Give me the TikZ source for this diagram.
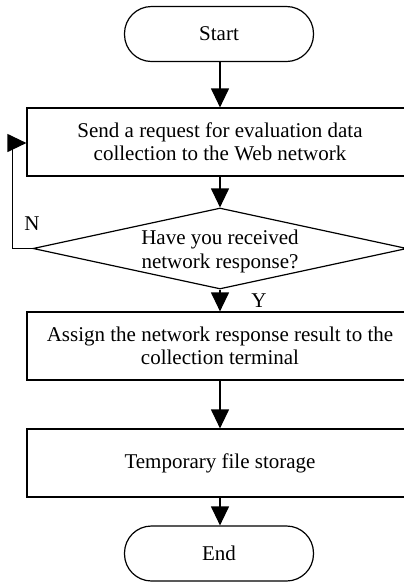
\documentclass[tikz,border=0pt]{standalone}
\usepackage{fontspec}
\setmainfont{Liberation Serif}
\usetikzlibrary{arrows.meta,shapes.geometric}
\begin{document}
\begin{tikzpicture}[x=1pt,y=-1pt,
  every node/.style={font=\fontsize{21}{23.5}\selectfont},
  term/.style={draw,line width=1.2pt,rounded corners=27pt,minimum width=189pt,minimum height=55pt,inner sep=0pt},
  procbox/.style={draw,line width=1.2pt,minimum width=386pt,minimum height=68pt,inner sep=0pt,align=center},
  decide/.style={draw,line width=1.2pt,diamond,minimum width=374pt,minimum height=81pt,inner sep=0pt,aspect=4.6},
  arr/.style={line width=1.2pt,-{Triangle[length=19pt,width=18pt]}}]
\useasboundingbox (0,0) rectangle (404,582);
\clip (0,0) rectangle (404,582);
% flowchart blocks
\node[term] (start) at (219,34) {Start};
\node[procbox] (send) at (220,142) {Send a request for evaluation data\\collection to the Web network};
\node[decide] (check) at (220,248.5) {};
\node[align=center,inner sep=0pt] (checktext) at ([yshift=-3pt]check.center) {Have you received\\network response?};
\node[procbox] (assign) at (220,346) {Assign the network response result to the\\collection terminal};
\node[procbox] (store) at (220,463) {Temporary file storage};
\node[term] (finish) at (219,553.5) {End};
% branch labels
\node (nlab) at (32,224) {N};
\node (ylab) at (259,301) {Y};
% connectors
\draw[arr] (start.south -| send.north) -- (send.north);
\draw[arr] (send.south) -- (check.north);
\draw[arr] (check.south) -- (assign.north);
\draw[arr] (assign.south) -- (store.north);
\draw[arr] (store.south) -- (store.south |- finish.north);
\draw[arr] (check.west) -- ++(-20,0) |- ([yshift=-1pt]send.west);
\end{tikzpicture}
\end{document}
